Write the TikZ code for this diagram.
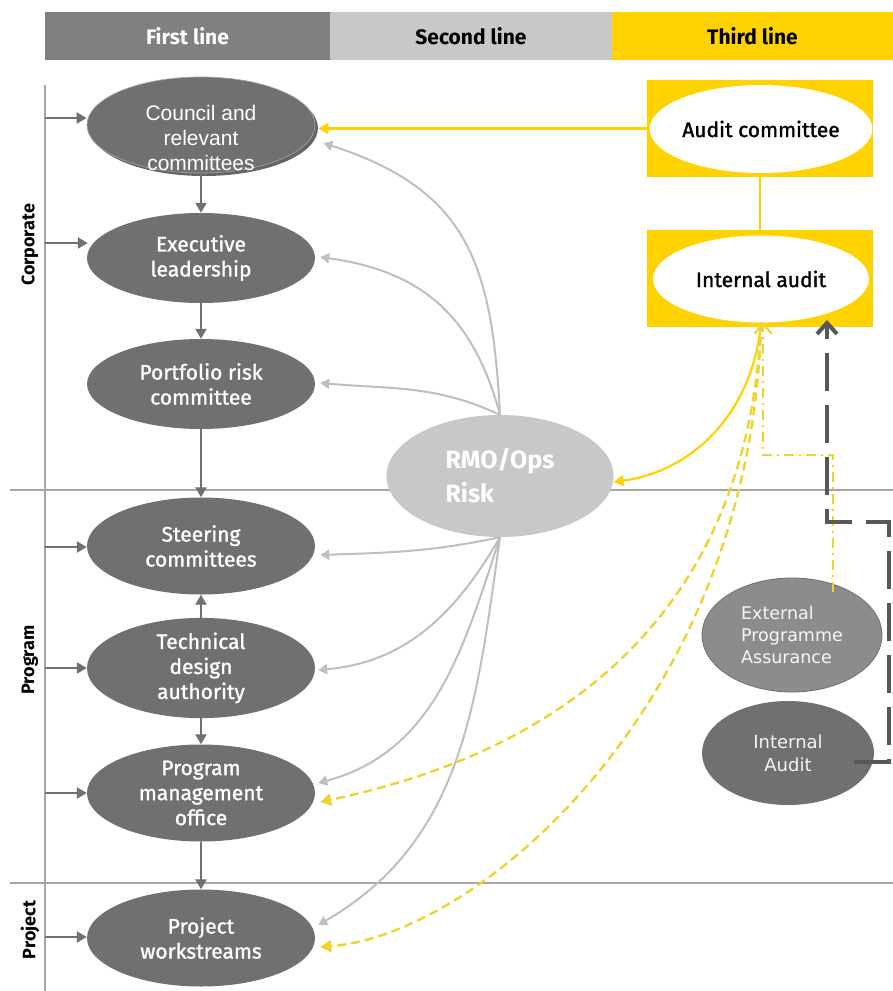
\documentclass[tikz,border=0pt]{standalone}
\usepackage{fontspec}
\setmainfont{Fira Sans}
\newfontfamily\medfont{Fira Sans}[FakeBold=1.3]
\newfontfamily\arialfont{Liberation Sans}
\newfontfamily\thinfont{DejaVu Sans}
\usetikzlibrary{shapes.geometric,arrows.meta}

\definecolor{nodegray}{RGB}{112,112,114}
\definecolor{hdrdark}{RGB}{128,128,130}
\definecolor{hdrlight}{RGB}{200,200,200}
\definecolor{eyyellow}{RGB}{255,210,0}
\definecolor{riskgray}{RGB}{200,200,200}
\definecolor{sectgray}{RGB}{165,165,165}
\definecolor{curvegray}{RGB}{190,190,196}
\definecolor{extgray}{RGB}{140,140,140}
\definecolor{dashdark}{RGB}{88,88,90}
\definecolor{dashyellow}{RGB}{238,212,50}

\begin{document}
\begin{tikzpicture}[x=1pt,y=-1pt,
  hdr/.style={rectangle, minimum height=48pt, inner sep=0pt,
    font=\bfseries\fontsize{21}{24}\selectfont},
  sidelbl/.style={rotate=90, font=\bfseries\fontsize{18}{20}\selectfont},
  body/.style={ellipse, fill=nodegray, minimum width=228pt, minimum height=96pt,
    inner sep=0pt, text=white, align=center, font=\medfont\fontsize{21}{25}\selectfont},
  auditell/.style={ellipse, fill=white, minimum width=216pt, minimum height=88pt,
    inner sep=0pt, font=\medfont\fontsize{21}{24}\selectfont},
  auditbox/.style={rectangle, fill=eyyellow, minimum width=226pt, minimum height=97pt,
    inner sep=0pt},
  sect/.style={draw=sectgray, line width=1.8pt},
  darr/.style={draw=nodegray, line width=2.2pt, -{Triangle[width=11pt,length=10pt]}},
  garr/.style={draw=curvegray, line width=2pt, -{Triangle[width=10pt,length=9pt]}},
  yarr/.style={draw=eyyellow, line width=2.2pt, -{Triangle[width=11pt,length=10pt]}},
  ydash/.style={draw=dashyellow, line width=2.4pt, dash pattern=on 9pt off 5pt,
    -{Triangle[width=12pt,length=11pt,fill=eyyellow]}},
  ydashdot/.style={draw=dashyellow, line width=2.4pt, dash pattern=on 10pt off 5pt on 2pt off 5pt,
    -{Straight Barb[width=17pt,length=10pt,line width=2.2pt]}},
  kdash/.style={draw=dashdark, line width=4pt, dash pattern=on 38pt off 14pt,
    -{Straight Barb[width=20pt,length=11pt,line width=4pt]}}
]
\useasboundingbox (0,0) rectangle (893,991);
\fill[white] (0,0) rectangle (893,991);

% column headers
\node[hdr, fill=hdrdark, text=white, minimum width=285pt] (h1) at (187.5,36) {First line};
\node[hdr, fill=hdrlight, minimum width=282pt] (h2) at (471,36) {Second line};
\node[hdr, fill=eyyellow, minimum width=281pt] (h3) at (752.5,36) {Third line};

% spine and section dividers
\coordinate (sp0) at (45,85);
\coordinate (sp1) at (45,991);
\coordinate (dA0) at (10,490);
\coordinate (dA1) at (893,490);
\coordinate (dB0) at (10,883);
\coordinate (dB1) at (893,883);
\draw[sect] (sp0) -- (sp1);
\draw[sect] (dA0) -- (dA1);
\draw[sect] (dB0) -- (dB1);

% level labels
\node[sidelbl] (lc) at (30,245) {Corporate};
\node[sidelbl] (lg) at (30,660) {Program};
\node[sidelbl] (lp) at (30,930) {Project};

% first-line bodies
\fill[nodegray!90!black] (204,128) ellipse [x radius=114, y radius=48];
\node[body, draw=white!35!nodegray, line width=0.7pt,
  label={[text=white, align=center, font=\arialfont\fontsize{21}{25}\selectfont,
    yshift=-13pt]center:{Council and\\relevant\\committees}}] (council) at (201,125) {};
\node[body, minimum height=90pt] (exec) at (201,258) {Executive\\leadership};
\node[body, minimum height=90pt] (portf) at (201,384) {Portfolio risk\\committee};
\node[body, minimum height=97pt] (steer) at (201,546) {Steering\\committees};
\node[body, minimum height=97pt] (tech) at (201,668) {Technical\\design\\authority};
\node[body, minimum height=97pt] (pmo) at (201,793) {Program\\management\\office};
\node[body, minimum height=97pt] (proj) at (201,938) {Project\\workstreams};

% second line
\node[ellipse, fill=riskgray, minimum width=227pt, minimum height=122pt, inner sep=0pt,
  text=white, align=left, font=\bfseries\fontsize{25}{34}\selectfont] (rmo) at (500,476)
  {RMO/Ops\\Risk};

% third line
\node[auditbox] (audbox) at (760,128.5) {};
\node[auditell] (audc) at (761,129) {Audit committee};
\node[auditbox] (intbox) at (760,278.5) {};
\node[auditell, minimum height=87pt] (intl) at (761,279) {Internal audit};

\node[ellipse, fill=extgray, draw=extgray!80!black, line width=0.8pt, minimum width=180pt,
  minimum height=114pt, inner sep=0pt, text=white!92!extgray, align=left,
  font=\thinfont\fontsize{17.5}{22}\selectfont] (ext) at (792,635)
  {External\\Programme\\Assurance};
\node[ellipse, fill=nodegray, minimum width=172pt, minimum height=104pt, inner sep=0pt,
  text=white!92!nodegray, align=center, font=\thinfont\fontsize{18}{23}\selectfont] (ia) at (788,753)
  {Internal\\Audit};

% inputs from the spine
\coordinate (in1) at (45,118);
\coordinate (in2) at (45,243);
\coordinate (in3) at (45,547);
\coordinate (in4) at (45,668);
\coordinate (in5) at (45,793);
\coordinate (in6) at (45,937);
\draw[darr] (in1) -- (in1 -| council.west);
\draw[darr] (in2) -- ([xshift=1pt]in2 -| exec.west);
\draw[darr] (in3) -- (in3 -| steer.west);
\draw[darr] (in4) -- (in4 -| tech.west);
\draw[darr] (in5) -- (in5 -| pmo.west);
\draw[darr] (in6) -- (in6 -| proj.west);

% first-line chain
\draw[darr] (council) -- (exec);
\draw[darr] (exec) -- (portf);
\draw[darr] (portf) -- (steer);
\draw[darr] (tech) -- (steer);
\draw[darr] (tech) -- (pmo);
\draw[darr] (pmo) -- (proj);

% second-line oversight
\draw[garr] (rmo.north) to[out=93,in=-18,looseness=1.2] ([xshift=8pt,yshift=-18pt]council.east);
\draw[garr] (rmo.north) to[out=105,in=-8,looseness=1.1] ([xshift=5pt,yshift=1pt]exec.east);
\draw[garr] (rmo.north) to[out=155,in=-5] ([xshift=5pt,yshift=1pt]portf.east);
\draw[garr] (rmo.south) to[out=192,in=2] ([xshift=5pt,yshift=-9pt]steer.east);
\draw[garr] (rmo.south) to[out=240,in=5] ([xshift=3pt,yshift=-2pt]tech.east);
\draw[garr] (rmo.south) to[out=252,in=15] ([xshift=3pt,yshift=10pt]pmo.east);
\draw[garr] (rmo.south) to[out=262,in=30] ([xshift=3pt,yshift=13pt]proj.east);

% third-line links
\draw[yarr] (audbox.west) -- ([xshift=3pt]council.east |- audbox.west);
\draw[draw=eyyellow, line width=1.8pt] (audbox.south) -- (intbox.north);
\draw[yarr] (intl.south) to[out=265,in=8] ([yshift=-6pt]rmo.east);
\draw[ydash] (intl.south) .. controls +(-16,358) and +(150,-32) .. ([xshift=5pt,yshift=-9pt]pmo.east);
\draw[ydash] (intl.south) .. controls +(-9,378) and +(160,-12) .. ([xshift=5pt,yshift=-9pt]proj.east);

% external assurance feed
\coordinate (dd1) at (833,455);
\coordinate (dd2) at (763,455);
\coordinate (dd3) at (763,322);
\draw[ydashdot] ([xshift=41pt,yshift=-14pt]ext.north) -- (dd1) -- (dd2) -- (dd3);

% internal audit feed
\coordinate (k1) at (889,762);
\coordinate (k2) at (889,522);
\coordinate (k3) at (827,522);
\coordinate (k4) at (827,320);
\draw[kdash] ([xshift=-20pt,yshift=-9pt]ia.east) -- (k1) -- (k2) -- (k3) -- (k4);
\end{tikzpicture}
\end{document}
